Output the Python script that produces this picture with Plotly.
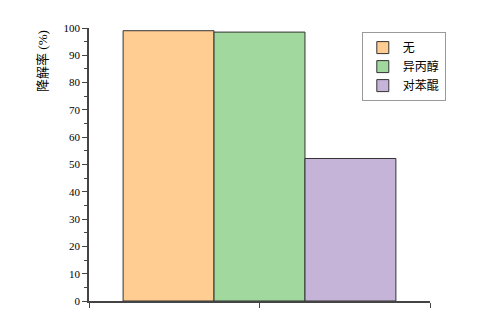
import plotly.graph_objects as go

series = ["无", "异丙醇", "对苯醌"]
values = [99.0, 98.5, 52.2]
colors = ["#FFCC91", "#A0D89E", "#C6B4D8"]
y_ticks = [0, 10, 20, 30, 40, 50, 60, 70, 80, 90, 100]

FONT = "Liberation Serif, Noto Sans CJK SC, serif"

fig = go.Figure()
for name, v, c in zip(series, values, colors):
    fig.add_trace(go.Bar(
        x=[0], y=[v], name=name,
        marker=dict(color=c, line=dict(color="#333333", width=1)),
    ))

fig.update_layout(
    width=500, height=319,
    margin=dict(l=89, r=70, t=28, b=14),
    paper_bgcolor="white", plot_bgcolor="white",
    barmode="group", bargap=0.2, bargroupgap=0,
    font=dict(family=FONT, size=11, color="#000000"),
    showlegend=True,
    legend=dict(
        x=0.80, y=0.985, xanchor="left", yanchor="top",
        bordercolor="#999999", borderwidth=1, bgcolor="white",
        font=dict(family=FONT, size=12), tracegroupgap=0,
        itemwidth=30,
    ),
)
fig.update_xaxes(
    range=[-0.5, 0.5], tickvals=[-0.5, 0, 0.5], ticktext=["", "", ""],
    ticks="outside", ticklen=5, tickcolor="#444444",
    showline=True, linecolor="#444444", linewidth=1.5,
    showgrid=False, zeroline=False,
)
fig.update_yaxes(
    range=[0, 100], tickvals=y_ticks,
    ticks="outside", ticklen=5, tickcolor="#444444",
    minor=dict(ticks="outside", dtick=5, ticklen=3, tickcolor="#444444", showgrid=False),
    showline=True, linecolor="#444444", linewidth=1.5,
    showgrid=False, zeroline=False,
    tickfont=dict(family=FONT, size=11),
)
fig.add_annotation(
    text="降解率 (%)", textangle=-90,
    xref="paper", yref="paper", x=-0.138, y=1.0,
    xanchor="center", yanchor="top", showarrow=False,
    font=dict(family=FONT, size=13),
)

fig.write_html("out.html")
